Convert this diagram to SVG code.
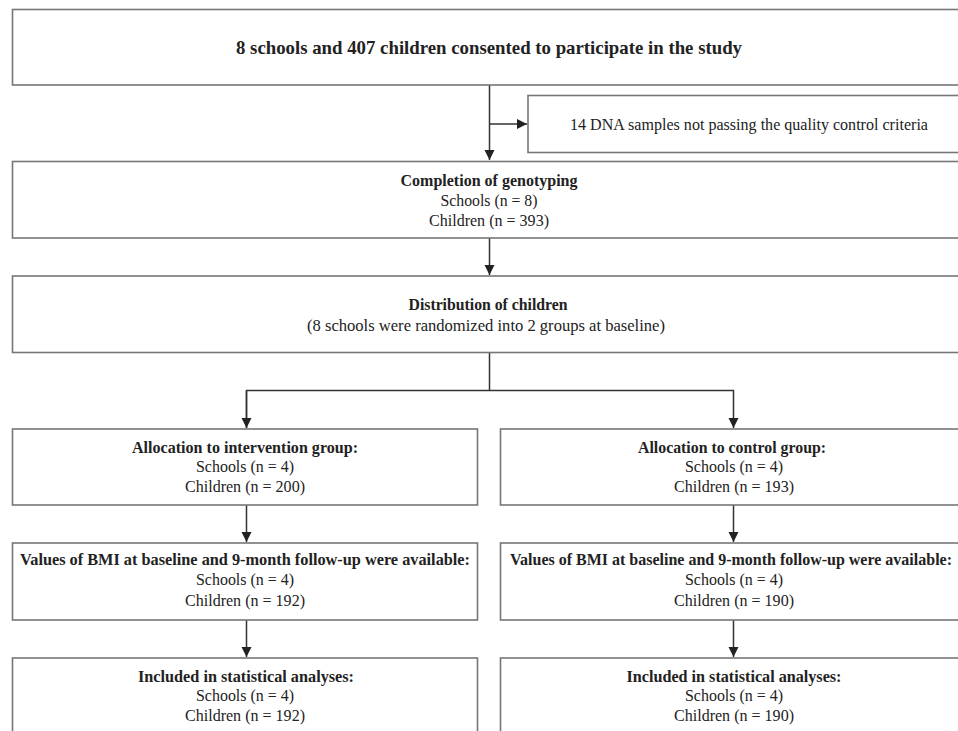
<svg xmlns="http://www.w3.org/2000/svg" width="958" height="731" viewBox="0 0 958 731">
<style>
.box{fill:#fff;stroke:#767676;stroke-width:1.6}
.t{font-family:"Liberation Serif","Times New Roman",serif;fill:#222;text-anchor:middle;font-size:17px}
.b{font-weight:bold;font-size:17.5px}
.bs{font-size:16px}
.h{font-weight:bold;font-size:19px}
.c{fill:none;stroke:#333;stroke-width:1.5}
</style>
<defs>
<marker id="ah" markerWidth="12" markerHeight="12" refX="10" refY="5.5" orient="auto" markerUnits="userSpaceOnUse">
<path d="M0,0.5 L10,5.5 L0,10.5 Z" fill="#222"/>
</marker>
</defs>
<rect width="958" height="731" fill="#fff"/>
<g id="connectors">
<line class="c" x1="489.5" y1="85" x2="489.5" y2="160" marker-end="url(#ah)"/>
<line class="c" x1="489.5" y1="124" x2="527" y2="124" marker-end="url(#ah)"/>
<line class="c" x1="489.5" y1="238" x2="489.5" y2="275" marker-end="url(#ah)"/>
<polyline class="c" points="489.5,352 489.5,390.5"/>
<polyline class="c" points="246.5,428 246.5,390.5 733.5,390.5 733.5,428" marker-end="url(#ah)"/>
<line class="c" x1="246.5" y1="390.5" x2="246.5" y2="428" marker-end="url(#ah)"/>
<line class="c" x1="246.5" y1="505" x2="246.5" y2="542" marker-end="url(#ah)"/>
<line class="c" x1="733.5" y1="505" x2="733.5" y2="542" marker-end="url(#ah)"/>
<line class="c" x1="246.5" y1="620" x2="246.5" y2="657" marker-end="url(#ah)"/>
<line class="c" x1="733.5" y1="620" x2="733.5" y2="657" marker-end="url(#ah)"/>
</g>
<g id="consented">
<rect class="box" x="12.5" y="9.5" width="960" height="75.5"/>
<text class="t h" x="489" y="54" textLength="506" lengthAdjust="spacingAndGlyphs">8 schools and 407 children consented to participate in the study</text>
</g>
<g id="excluded">
<rect class="box" x="528" y="95.5" width="440" height="57"/>
<text class="t" x="749" y="130" textLength="358" lengthAdjust="spacingAndGlyphs">14 DNA samples not passing the quality control criteria</text>
</g>
<g id="genotyping">
<rect class="box" x="12.5" y="161.5" width="960" height="76.5"/>
<text class="t b" x="489" y="186" textLength="177" lengthAdjust="spacingAndGlyphs">Completion of genotyping</text>
<text class="t" x="489" y="206" textLength="97" lengthAdjust="spacingAndGlyphs">Schools (n = 8)</text>
<text class="t" x="489" y="226" textLength="120" lengthAdjust="spacingAndGlyphs">Children (n = 393)</text>
</g>
<g id="distribution">
<rect class="box" x="12.5" y="276" width="960" height="76.5"/>
<text class="t b" x="488" y="310" textLength="159" lengthAdjust="spacingAndGlyphs">Distribution of children</text>
<text class="t" x="486" y="331" textLength="358" lengthAdjust="spacingAndGlyphs">(8 schools were randomized into 2 groups at baseline)</text>
</g>
<g id="intervention">
<rect class="box" x="12.5" y="429" width="465" height="76"/>
<text class="t b" x="245" y="453" textLength="226" lengthAdjust="spacingAndGlyphs">Allocation to intervention group:</text>
<text class="t" x="245" y="472" textLength="98" lengthAdjust="spacingAndGlyphs">Schools (n = 4)</text>
<text class="t" x="245" y="492" textLength="120" lengthAdjust="spacingAndGlyphs">Children (n = 200)</text>
</g>
<g id="control">
<rect class="box" x="500.5" y="429" width="470" height="76"/>
<text class="t b" x="732" y="453" textLength="188" lengthAdjust="spacingAndGlyphs">Allocation to control group:</text>
<text class="t" x="734" y="472" textLength="98" lengthAdjust="spacingAndGlyphs">Schools (n = 4)</text>
<text class="t" x="734" y="492" textLength="120" lengthAdjust="spacingAndGlyphs">Children (n = 193)</text>
</g>
<g id="bmi-intervention">
<rect class="box" x="12.5" y="543" width="465" height="77"/>
<text class="t b bs" x="245" y="565" textLength="450" lengthAdjust="spacingAndGlyphs">Values of BMI at baseline and 9-month follow-up were available:</text>
<text class="t" x="245" y="585" textLength="98" lengthAdjust="spacingAndGlyphs">Schools (n = 4)</text>
<text class="t" x="245" y="606" textLength="120" lengthAdjust="spacingAndGlyphs">Children (n = 192)</text>
</g>
<g id="bmi-control">
<rect class="box" x="500.5" y="543" width="470" height="77"/>
<text class="t b bs" x="731" y="565" textLength="442" lengthAdjust="spacingAndGlyphs">Values of BMI at baseline and 9-month follow-up were available:</text>
<text class="t" x="734" y="585" textLength="98" lengthAdjust="spacingAndGlyphs">Schools (n = 4)</text>
<text class="t" x="734" y="606" textLength="120" lengthAdjust="spacingAndGlyphs">Children (n = 190)</text>
</g>
<g id="analysis-intervention">
<rect class="box" x="12.5" y="658" width="465" height="90"/>
<text class="t b" x="246" y="682" textLength="216" lengthAdjust="spacingAndGlyphs">Included in statistical analyses:</text>
<text class="t" x="245" y="701" textLength="98" lengthAdjust="spacingAndGlyphs">Schools (n = 4)</text>
<text class="t" x="245" y="721" textLength="120" lengthAdjust="spacingAndGlyphs">Children (n = 192)</text>
</g>
<g id="analysis-control">
<rect class="box" x="500.5" y="658" width="470" height="90"/>
<text class="t b" x="734" y="682" textLength="215" lengthAdjust="spacingAndGlyphs">Included in statistical analyses:</text>
<text class="t" x="734" y="701" textLength="98" lengthAdjust="spacingAndGlyphs">Schools (n = 4)</text>
<text class="t" x="734" y="721" textLength="120" lengthAdjust="spacingAndGlyphs">Children (n = 190)</text>
</g>
</svg>
